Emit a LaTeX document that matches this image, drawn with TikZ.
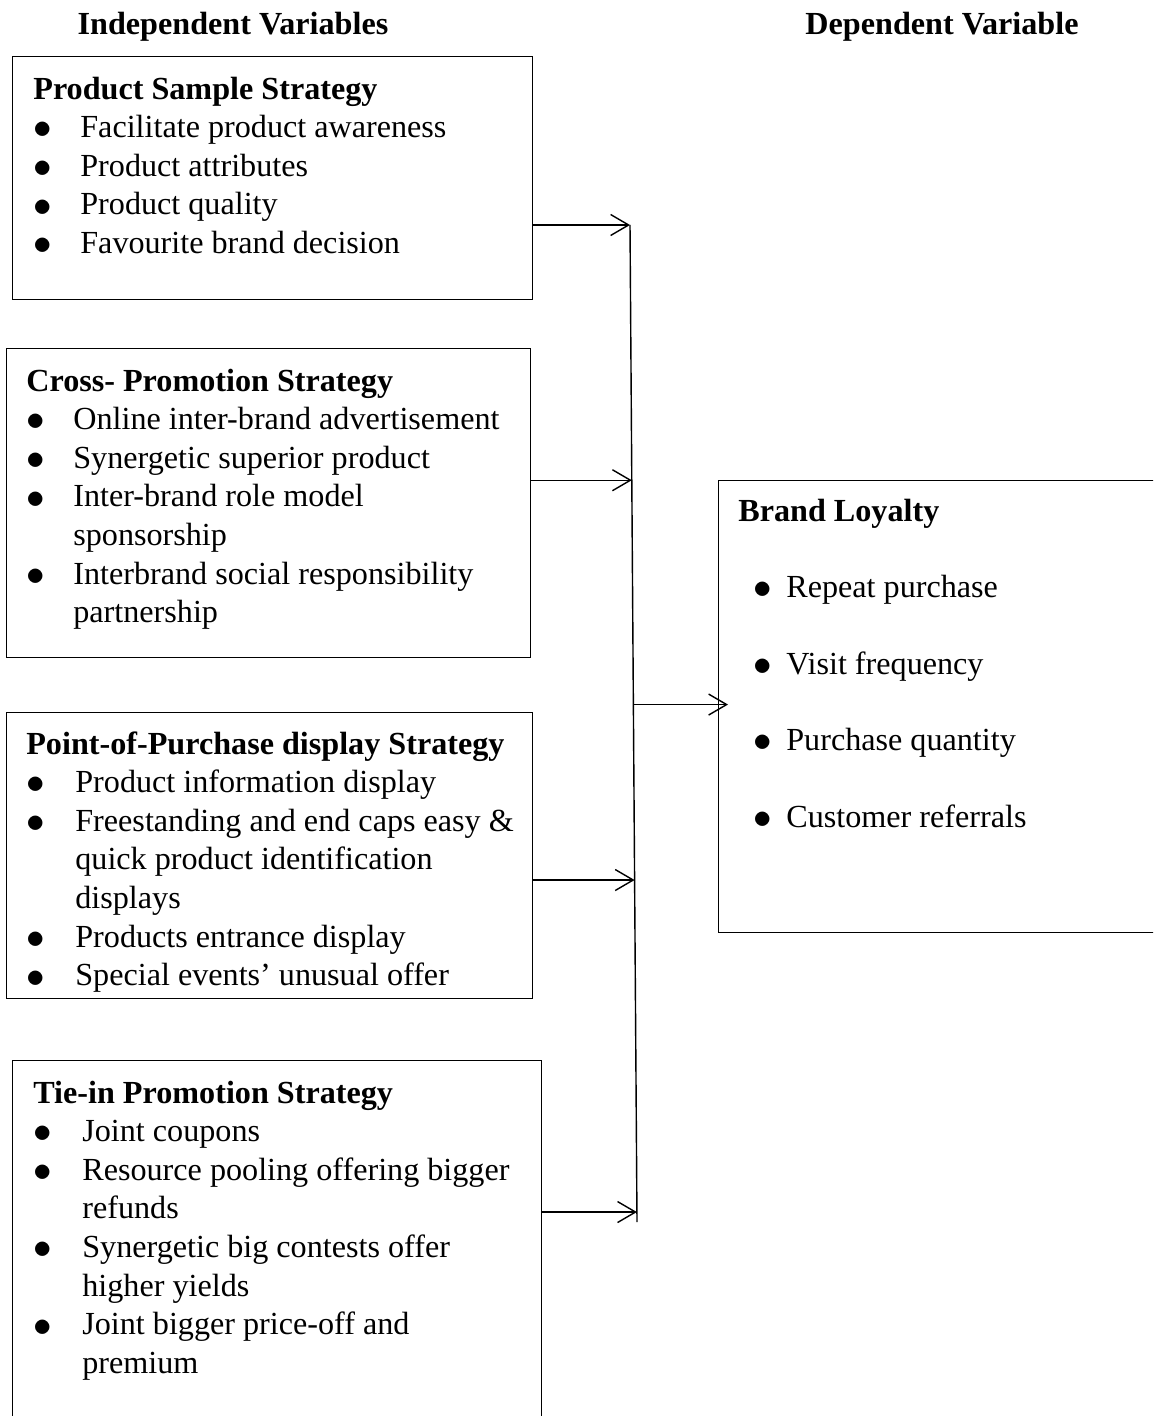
\documentclass[tikz,border=0pt]{standalone}
\usepackage{fontspec}
\setmainfont{Liberation Serif}
\usepackage{array}
\usetikzlibrary{arrows.meta}

\newcommand{\bul}{\raisebox{-0.04em}{\scalebox{1.22}{$\bullet$}}}

\begin{document}
\begin{tikzpicture}[
    varbox/.style={rectangle, draw=black, line width=0.8pt, anchor=north west, inner sep=0pt},
    itemlist/.style={anchor=base west, inner sep=0pt, font=\fontsize{18.3}{22}\selectfont, align=left},
    header/.style={anchor=base, inner sep=0pt, font=\fontsize{18.3}{22}\selectfont\bfseries},
    arrow/.style={-{Straight Barb[length=3.6mm, width=4.2mm]}, line width=0.8pt},
    link/.style={line width=0.8pt}
]
\path[use as bounding box] (0,0) rectangle (23.06,-28.32);
\clip (0,0) rectangle (23.06,-28.32);

% ========== HEADERS ==========
\node[header] (indep) at (4.66,-0.7) {Independent Variables};
\node[header] (dep) at (18.84,-0.7) {Dependent Variable};

% ========== INDEPENDENT VARIABLES ==========
\node[varbox, minimum width=10.4cm, minimum height=4.86cm] (sample) at (0.24,-1.12) {};
\node[itemlist] (samplelist) at ([xshift=0.42cm, yshift=-0.86cm]sample.north west) {%
\begin{tabular}[t]{@{}p{0.94cm}@{}l@{}}
\multicolumn{2}{@{}l@{}}{\textbf{Product Sample Strategy}}\\
\bul & Facilitate product awareness\\
\bul & Product attributes\\
\bul & Product quality\\
\bul & Favourite brand decision
\end{tabular}};

\node[varbox, minimum width=10.48cm, minimum height=6.18cm] (cross) at (0.12,-6.96) {};
\node[itemlist] (crosslist) at ([xshift=0.4cm, yshift=-0.86cm]cross.north west) {%
\begin{tabular}[t]{@{}p{0.94cm}@{}l@{}}
\multicolumn{2}{@{}l@{}}{\textbf{Cross- Promotion Strategy}}\\
\bul & Online inter-brand advertisement\\
\bul & Synergetic superior product\\
\bul & Inter-brand role model\\
     & sponsorship\\
\bul & Interbrand social responsibility\\
     & partnership
\end{tabular}};

\node[varbox, minimum width=10.52cm, minimum height=5.72cm] (pop) at (0.12,-14.24) {};
\node[itemlist] (poplist) at ([xshift=0.4cm, yshift=-0.84cm]pop.north west) {%
\begin{tabular}[t]{@{}p{0.98cm}@{}l@{}}
\multicolumn{2}{@{}l@{}}{\textbf{Point-of-Purchase display Strategy}}\\
\bul & Product information display\\
\bul & Freestanding and end caps easy \&\\
     & quick product identification\\
     & displays\\
\bul & Products entrance display\\
\bul & Special events’ unusual offer
\end{tabular}};

\node[varbox, minimum width=10.58cm, minimum height=7.6cm] (tiein) at (0.24,-21.2) {};
\node[itemlist] (tieinlist) at ([xshift=0.42cm, yshift=-0.86cm]tiein.north west) {%
\begin{tabular}[t]{@{}p{0.98cm}@{}l@{}}
\multicolumn{2}{@{}l@{}}{\textbf{Tie-in Promotion Strategy}}\\
\bul & Joint coupons\\
\bul & Resource pooling offering bigger\\
     & refunds\\
\bul & Synergetic big contests offer\\
     & higher yields\\
\bul & Joint bigger price-off and\\
     & premium
\end{tabular}};

% ========== DEPENDENT VARIABLE ==========
\node[varbox, minimum width=9.4cm, minimum height=9.04cm] (loyalty) at (14.36,-9.6) {};
\node[itemlist] (loyaltylist) at ([xshift=0.4cm, yshift=-0.82cm]loyalty.north west) {%
\renewcommand{\arraystretch}{1.98}%
\begin{tabular}[t]{@{\hspace{0.3cm}}p{0.66cm}@{}l@{}}
\multicolumn{2}{@{}l@{}}{\textbf{Brand Loyalty}}\\
\bul & Repeat purchase\\
\bul & Visit frequency\\
\bul & Purchase quantity\\
\bul & Customer referrals
\end{tabular}};

% ========== CONNECTORS ==========
\coordinate (vtop) at (12.6,-4.5);
\coordinate (vbot) at (12.74,-24.44);
\draw[link] (vtop) -- (vbot)
    coordinate[pos=0.256] (jcross)
    coordinate[pos=0.481] (jmid)
    coordinate[pos=0.657] (jpop)
    coordinate[pos=0.99] (jtiein);

\draw[arrow] (sample.east |- vtop) -- (vtop);
\draw[arrow] (cross.east |- jcross) -- (jcross);
\draw[arrow] (pop.east |- jpop) -- (jpop);
\draw[arrow] (tiein.east |- jtiein) -- (jtiein);
\draw[arrow] (jmid) -- ([xshift=0.2cm]loyalty.west |- jmid);

\end{tikzpicture}
\end{document}
